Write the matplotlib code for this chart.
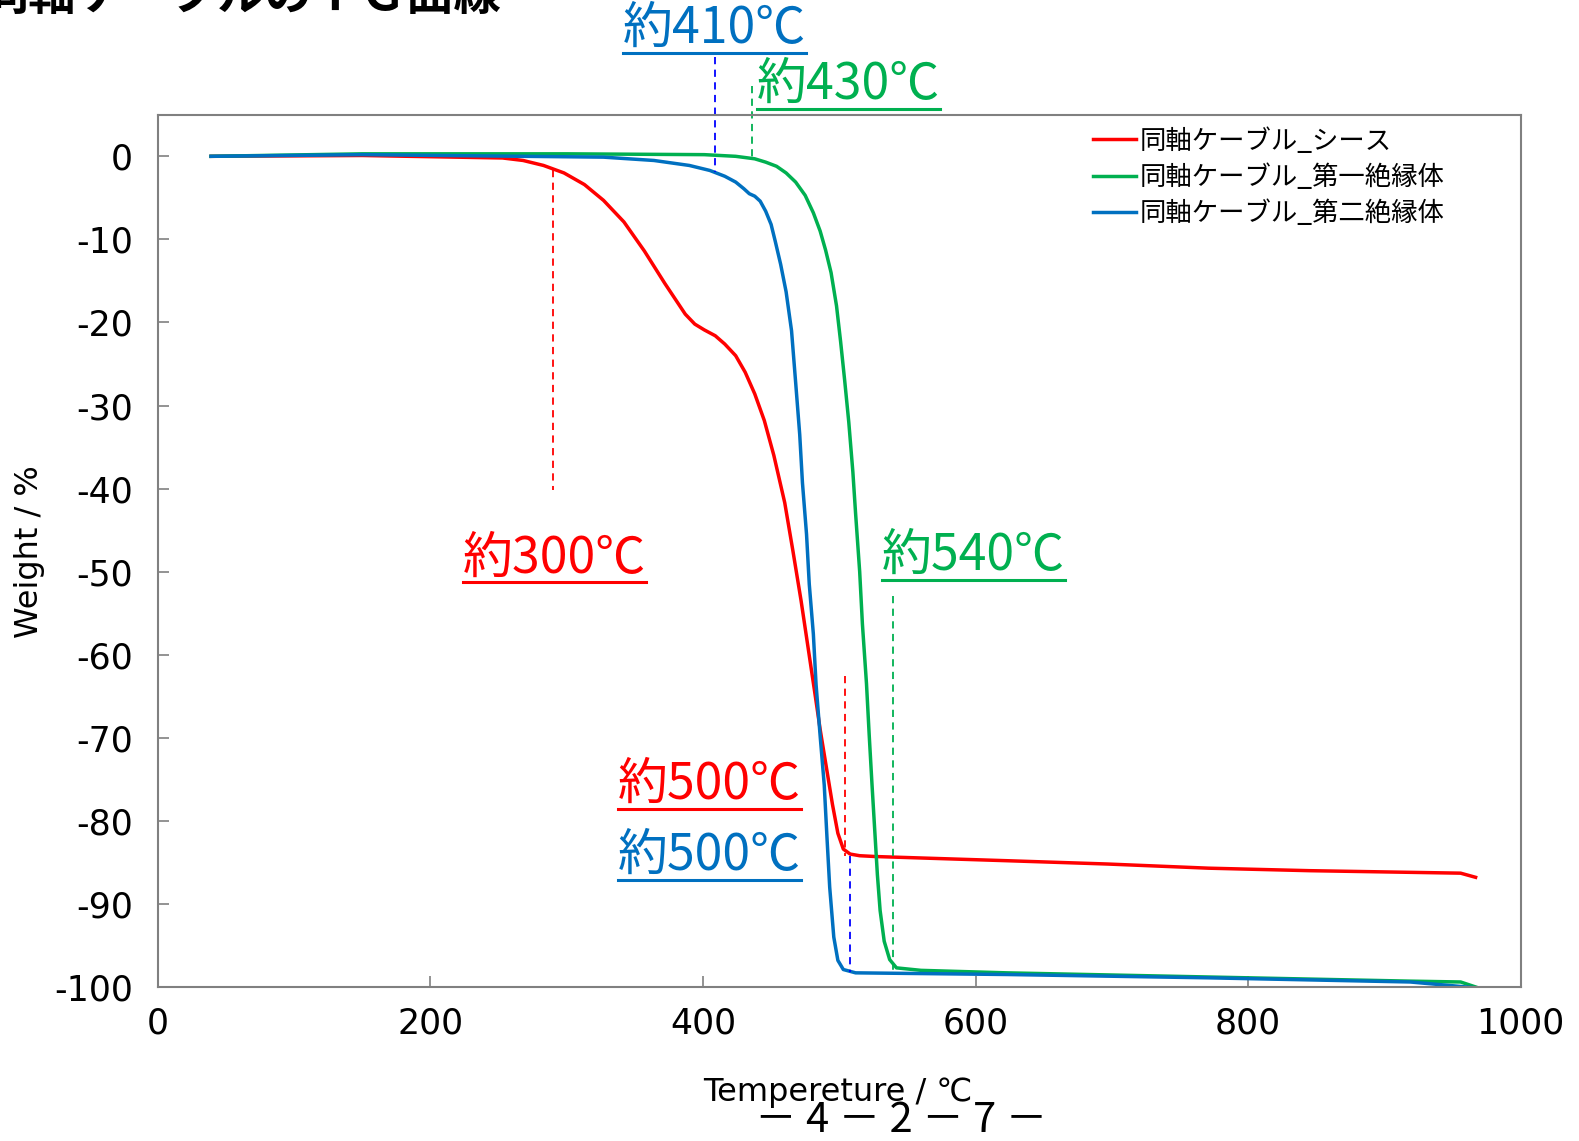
import matplotlib
matplotlib.use("Agg")
import matplotlib.pyplot as plt
from matplotlib.lines import Line2D

plt.rcParams['font.family'] = ['Noto Sans CJK JP', 'DejaVu Sans']

# sheath (red)
temp_sheath = [39, 150, 253, 268, 283, 298, 313, 327, 342, 357, 372, 387, 394, 401, 409, 416, 424,
               431, 438, 445, 452, 460, 466, 472, 477, 482, 486, 491, 495, 499, 503, 508, 515,
               527, 623, 697, 771, 845, 919, 956, 967]
wt_sheath = [0, 0.1, -0.2, -0.5, -1.1, -2.0, -3.4, -5.3, -7.9, -11.4, -15.3, -19.0, -20.2, -20.9,
             -21.6, -22.6, -24.0, -26.0, -28.6, -31.8, -36.0, -41.7, -47.5, -53.5, -59.0, -64.5,
             -69.0, -74.0, -78.0, -81.5, -83.4, -84.0, -84.2, -84.3, -84.8, -85.2, -85.7, -86.0,
             -86.2, -86.3, -86.8]

# first insulator (green)
temp_ins1 = [39, 150, 300, 401, 424, 438, 446, 454, 461, 468, 475, 481, 486, 490, 494, 498, 501,
             504, 507, 510, 512, 515, 517, 520, 522, 524, 526, 528, 530, 533, 537, 542, 560, 623,
             771, 919, 956, 967]
wt_ins1 = [0, 0.3, 0.3, 0.2, 0.0, -0.3, -0.7, -1.2, -2.0, -3.1, -4.7, -6.8, -9.0, -11.3, -14.0,
           -18.0, -22.3, -27.0, -32.0, -38.0, -43.0, -50.0, -56.3, -63.5, -69.7, -75.5, -81.0,
           -86.5, -90.8, -94.5, -96.7, -97.7, -98.0, -98.3, -98.8, -99.3, -99.4, -100]

# second insulator (blue)
temp_ins2 = [39, 150, 327, 364, 390, 405, 416, 424, 430, 434, 438, 442, 446, 450, 453, 457, 461,
             465, 468, 471, 473, 476, 478, 481, 483, 486, 489, 491, 493, 496, 499, 503, 512, 623,
             771, 919, 967]
wt_ins2 = [0, 0.2, -0.1, -0.5, -1.1, -1.7, -2.4, -3.1, -3.9, -4.5, -4.8, -5.4, -6.6, -8.2, -10.2,
           -13.0, -16.3, -21.0, -27.2, -33.5, -39.3, -45.5, -51.5, -57.5, -63.6, -69.8, -75.7,
           -82.0, -88.0, -94.0, -96.8, -97.9, -98.3, -98.5, -98.9, -99.4, -100.1]

series_names = ['同軸ケーブル_シース', '同軸ケーブル_第一絶縁体', '同軸ケーブル_第二絶縁体']
series_colors = ['#FF0000', '#00B050', '#0070C0']

# onset markers: (temperature, y from, y to, colour)
marker_temps = [290, 408.7, 436, 504, 507.8, 539.5]
marker_from = [-1.7, 12.0, 8.5, -62.6, -84.2, -52.9]
marker_to = [-40.2, -1.9, -0.2, -84.2, -98.2, -98.2]
marker_colors = ['#FF0000', '#0000FF', '#00B050', '#FF0000', '#0000FF', '#00B050']

# annotation labels
label_texts = ['約410℃', '約430℃', '約300℃', '約540℃', '約500℃', '約500℃']
label_x = [408.7, 439.8, 224, 531.4, 337.8, 337.8]
label_y = [15.3, 8.6, -48.4, -48.1, -75.7, -84.2]
label_colors = ['#0070C0', '#00B050', '#FF0000', '#00B050', '#FF0000', '#0070C0']

fig = plt.figure(figsize=(15.79, 11.41), dpi=100)
ax = fig.add_axes([0.1000, 0.1350, 0.8630, 0.7644])

for t, w, name, c in zip([temp_sheath, temp_ins1, temp_ins2],
                         [wt_sheath, wt_ins1, wt_ins2], series_names, series_colors):
    ax.plot(t, w, color=c, lw=2.5, label=name, solid_joinstyle='round')

for xm, y0, y1, c in zip(marker_temps, marker_from, marker_to, marker_colors):
    ax.plot([xm, xm], [y0, y1], color=c, lw=1.3, ls=(0, (4, 3)), clip_on=False)

ax.set_xlim(0, 1000)
ax.set_ylim(-100, 5)
ax.set_xticks(range(0, 1001, 200))
ax.set_yticks(range(-100, 1, 10))
ax.set_yticklabels([str(v) for v in range(-100, 1, 10)])
ax.tick_params(direction='in', length=8, width=1.2, color='#808080', labelsize=25)
for lab in ax.get_xticklabels() + ax.get_yticklabels():
    lab.set_family(['DejaVu Sans'])
ax.tick_params(axis='y', pad=18)
ax.tick_params(axis='x', pad=14)
for s in ax.spines.values():
    s.set_color('#808080')
    s.set_linewidth(1.5)

ax.set_xlabel('Tempereture / ℃', fontsize=23, family=['DejaVu Sans'], va='center')
ax.set_ylabel('Weight / %', fontsize=23, family=['DejaVu Sans'], va='center')
ax.xaxis.set_label_coords(0.499, -0.121)
ax.yaxis.set_label_coords(-0.094, 0.499)

leg = ax.legend(loc='upper left', bbox_to_anchor=(0.672, 1.008), frameon=False, fontsize=19,
                handlelength=1.6, handletextpad=0.15, labelspacing=0.35, borderaxespad=0.35)

texts = []
for s, x, y, c in zip(label_texts, label_x, label_y, label_colors):
    ha = 'center' if s == '約410℃' else 'left'
    texts.append(ax.text(x, y, s, color=c, fontsize=36, ha=ha, va='center', clip_on=False))

fig.text(-0.012, 1 - 10 / 1141, '同軸ケーブルのＴＧ曲線', fontsize=34, fontweight='bold',
         ha='left', va='baseline')
fig.text(0.571, 0.018, '－ 4 － 2 － 7 －', fontsize=30, ha='center', va='center')

# underline the annotation labels
fig.canvas.draw()
r = fig.canvas.get_renderer()
inv = fig.transFigure.inverted()
for t, c in zip(texts, label_colors):
    bb = t.get_window_extent(r)
    x0, y0 = inv.transform((bb.x0, bb.y0 + 2))
    x1, _ = inv.transform((bb.x1, bb.y0 + 2))
    fig.add_artist(Line2D([x0, x1], [y0, y0], transform=fig.transFigure, color=c, lw=2.2))

fig.savefig('out.png', dpi=100)
